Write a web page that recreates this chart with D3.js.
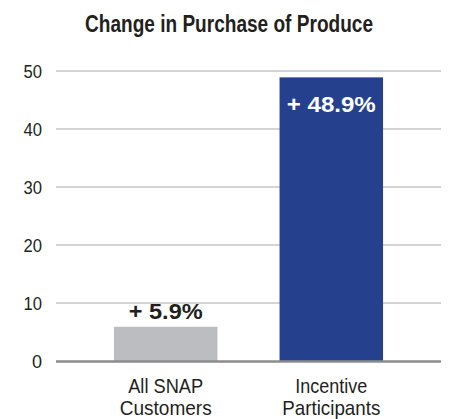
<!DOCTYPE html>
<meta charset="utf-8">
<script src="https://d3js.org/d3.v7.min.js"></script>
<style>
  body { margin: 0; background: #fff; }
  text { fill: #231f20; }
</style>
<svg id="chart" width="450" height="419"></svg>
<script>
// data
const categories = ["All SNAP Customers", "Incentive Participants"];
const labelLines = [["All SNAP", "Customers"], ["Incentive", "Participants"]];
const lineWidths = [[75, 92], [72, 98]];
const values = [5.9, 48.9];
const valueLabels = ["+ 5.9%", "+ 48.9%"];
const tickValues = [0, 10, 20, 30, 40, 50];
const barColors = ["#bcbdc0", "#25418e"];

const svg = d3.select("#chart");
const narrow = "'Liberation Sans Narrow', 'Arial Narrow', 'Liberation Sans', sans-serif";

const x = d3.scaleBand()
    .domain(categories)
    .range([56, 441])
    .paddingInner(0.375)
    .paddingOuter(0.35);

const y = d3.scaleLinear()
    .domain([0, 50])
    .range([361, 71]);

// title
svg.append("text")
    .attr("x", 229).attr("y", 32)
    .attr("text-anchor", "middle")
    .attr("font-family", narrow)
    .attr("font-weight", "bold")
    .attr("font-size", 23)
    .attr("textLength", 288)
    .attr("lengthAdjust", "spacingAndGlyphs")
    .text("Change in Purchase of Produce");

// gridlines
svg.selectAll(".grid")
    .data(tickValues.filter(d => d > 0))
    .join("line")
    .attr("x1", 56).attr("x2", 441)
    .attr("y1", d => y(d)).attr("y2", d => y(d))
    .attr("stroke", "#c6c6c6")
    .attr("stroke-width", 1.3);

// tick labels
svg.selectAll(".tick")
    .data(tickValues)
    .join("text")
    .attr("x", 42)
    .attr("y", d => y(d) + 6.5)
    .attr("text-anchor", "end")
    .attr("font-family", "'Liberation Sans', Arial, sans-serif")
    .attr("font-size", 18)
    .each(function (d) {
        if (d >= 10) d3.select(this).attr("textLength", 18.5).attr("lengthAdjust", "spacingAndGlyphs");
    })
    .text(d => d);

// bars
svg.selectAll(".bar")
    .data(values)
    .join("rect")
    .attr("x", (d, i) => x(categories[i]))
    .attr("width", x.bandwidth())
    .attr("y", d => y(d))
    .attr("height", d => y(0) - y(d))
    .attr("fill", (d, i) => barColors[i]);

// baseline
svg.append("line")
    .attr("x1", 56).attr("x2", 441)
    .attr("y1", y(0) + 0.5).attr("y2", y(0) + 0.5)
    .attr("stroke", "#8c8c8c")
    .attr("stroke-width", 2.5);

// value labels
svg.selectAll(".val")
    .data(values)
    .join("text")
    .attr("x", (d, i) => x(categories[i]) + x.bandwidth() / 2)
    .attr("y", (d, i) => i === 0 ? y(d) - 8 : y(d) + 35)
    .attr("text-anchor", "middle")
    .attr("font-family", narrow)
    .attr("font-weight", "bold")
    .attr("font-size", 22)
    .attr("textLength", (d, i) => i === 0 ? 74 : 89)
    .attr("lengthAdjust", "spacingAndGlyphs")
    .style("fill", (d, i) => i === 0 ? "#231f20" : "#ffffff")
    .text((d, i) => valueLabels[i]);

// category labels
const cat = svg.selectAll(".cat")
    .data(categories)
    .join("text")
    .attr("text-anchor", "middle")
    .attr("font-family", narrow)
    .attr("font-size", 21);

cat.selectAll("tspan")
    .data((d, i) => labelLines[i].map((l, j) => ({ l, c: d, w: lineWidths[i][j] })))
    .join("tspan")
    .attr("x", d => x(d.c) + x.bandwidth() / 2)
    .attr("y", (d, j) => 393 + j * 22)
    .attr("textLength", d => d.w)
    .attr("lengthAdjust", "spacingAndGlyphs")
    .text(d => d.l);
</script>
